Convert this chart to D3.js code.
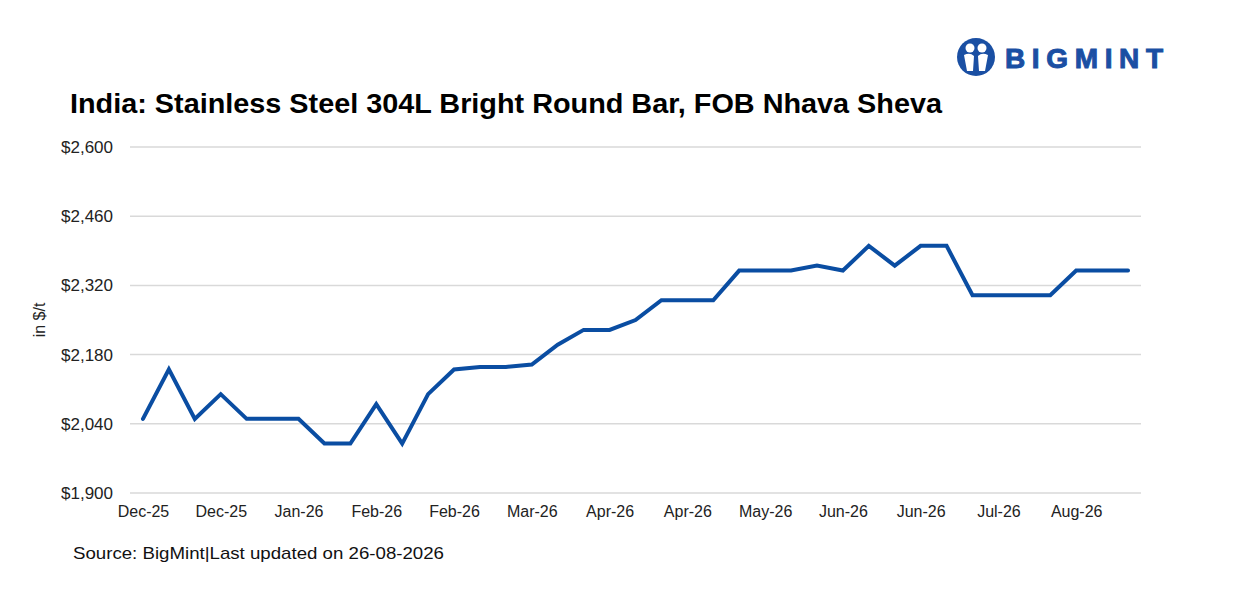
<!DOCTYPE html>
<html>
<head>
<meta charset="utf-8">
<script src="https://cdn.jsdelivr.net/npm/d3@7"></script>
<style>
  body { margin: 0; background: #fff; }
  text { font-family: "Liberation Sans", Arial, sans-serif; }
</style>
</head>
<body>
<svg id="chart" width="1238" height="591"></svg>
<script>
// one label every 3 weeks, blank in between
var labels = ["Dec-25", "", "", "Dec-25", "", "", "Jan-26", "", "", "Feb-26", "", "",
  "Feb-26", "", "", "Mar-26", "", "", "Apr-26", "", "", "Apr-26", "", "",
  "May-26", "", "", "Jun-26", "", "", "Jun-26", "", "", "Jul-26", "", "",
  "Aug-26", "", ""];
var prices = [2050, 2150, 2050, 2100, 2050, 2050, 2050, 2000, 2000, 2080, 2000, 2100,
  2150, 2155, 2155, 2160, 2200, 2230, 2230, 2250, 2290, 2290, 2290,
  2350, 2350, 2350, 2360, 2350, 2400, 2360, 2400, 2400,
  2300, 2300, 2300, 2300, 2350, 2350, 2350];
var yTicks = [1900, 2040, 2180, 2320, 2460, 2600];

var title = "India: Stainless Steel 304L Bright Round Bar, FOB Nhava Sheva";
var source = "Source: BigMint|Last updated on 26-08-2026";

var svg = d3.select("#chart");
var plot = { left: 130, right: 1141, top: 147, bottom: 493 };

var idx = d3.range(prices.length);
var x = d3.scalePoint().domain(idx).range([plot.left, plot.right]).padding(0.5);
var y = d3.scaleLinear().domain([1900, 2600]).range([plot.bottom, plot.top]);

// gridlines
svg.append("g")
  .selectAll("line")
  .data(yTicks)
  .join("line")
  .attr("x1", plot.left)
  .attr("x2", plot.right)
  .attr("y1", function(d) { return y(d); })
  .attr("y2", function(d) { return y(d); })
  .attr("stroke", "#d9d9d9")
  .attr("stroke-width", 1.5);

// y axis labels
var yAxis = svg.append("g")
  .attr("transform", "translate(" + (plot.left - 17) + ",0)")
  .call(d3.axisLeft(y).tickValues(yTicks).tickSize(0).tickPadding(0)
    .tickFormat(function(d) { return "$" + d3.format(",")(d); }));
yAxis.select(".domain").remove();
yAxis.selectAll("text")
  .attr("font-size", 17)
  .attr("fill", "#222")
  .style("font-family", "'Liberation Sans', Arial, sans-serif");

// x axis labels
var xAxis = svg.append("g")
  .attr("transform", "translate(0," + (plot.bottom + 13) + ")")
  .call(d3.axisBottom(x).tickSize(0).tickPadding(0)
    .tickFormat(function(i) { return labels[i]; }));
xAxis.select(".domain").remove();
xAxis.selectAll("text")
  .attr("font-size", 16)
  .attr("fill", "#222")
  .style("font-family", "'Liberation Sans', Arial, sans-serif");

// price line
var line = d3.line()
  .x(function(d, i) { return x(i); })
  .y(function(d) { return y(d); });

svg.append("path")
  .datum(prices)
  .attr("d", line)
  .attr("fill", "none")
  .attr("stroke", "#0a4da2")
  .attr("stroke-width", 4)
  .attr("stroke-linejoin", "miter")
  .attr("stroke-linecap", "round");

// axis title
svg.append("text")
  .attr("transform", "translate(45,320) rotate(-90)")
  .attr("text-anchor", "middle")
  .attr("font-size", 16)
  .attr("fill", "#222")
  .text("in $/t");

// chart title
svg.append("text")
  .attr("x", 70)
  .attr("y", 113)
  .attr("font-size", 27)
  .attr("font-weight", "bold")
  .attr("fill", "#000")
  .attr("textLength", 872)
  .attr("lengthAdjust", "spacingAndGlyphs")
  .text(title);

svg.append("text")
  .attr("x", 73)
  .attr("y", 559)
  .attr("font-size", 17)
  .attr("fill", "#111")
  .attr("textLength", 371)
  .attr("lengthAdjust", "spacingAndGlyphs")
  .text(source);

// logo
var logo = svg.append("g").attr("transform", "translate(976,57)");
logo.append("circle").attr("r", 19).attr("fill", "#1a4fa3");
logo.append("circle").attr("cx", -6).attr("cy", -9).attr("r", 4.5).attr("fill", "#fff");
logo.append("circle").attr("cx", 6).attr("cy", -9).attr("r", 4.5).attr("fill", "#fff");
logo.append("path")
  .attr("d", "M-12,-2 Q-6,-5 -2,-1 L-3,14 L-9,14 Z M12,-2 Q6,-5 2,-1 L3,14 L9,14 Z")
  .attr("fill", "#fff");
logo.append("text")
  .attr("x", 29)
  .attr("y", 11)
  .attr("font-size", 28)
  .attr("font-weight", "bold")
  .attr("fill", "#1a4fa3")
  .attr("stroke", "#1a4fa3")
  .attr("stroke-width", 1)
  .attr("textLength", 158)
  .attr("lengthAdjust", "spacing")
  .text("BIGMINT");
</script>
</body>
</html>
